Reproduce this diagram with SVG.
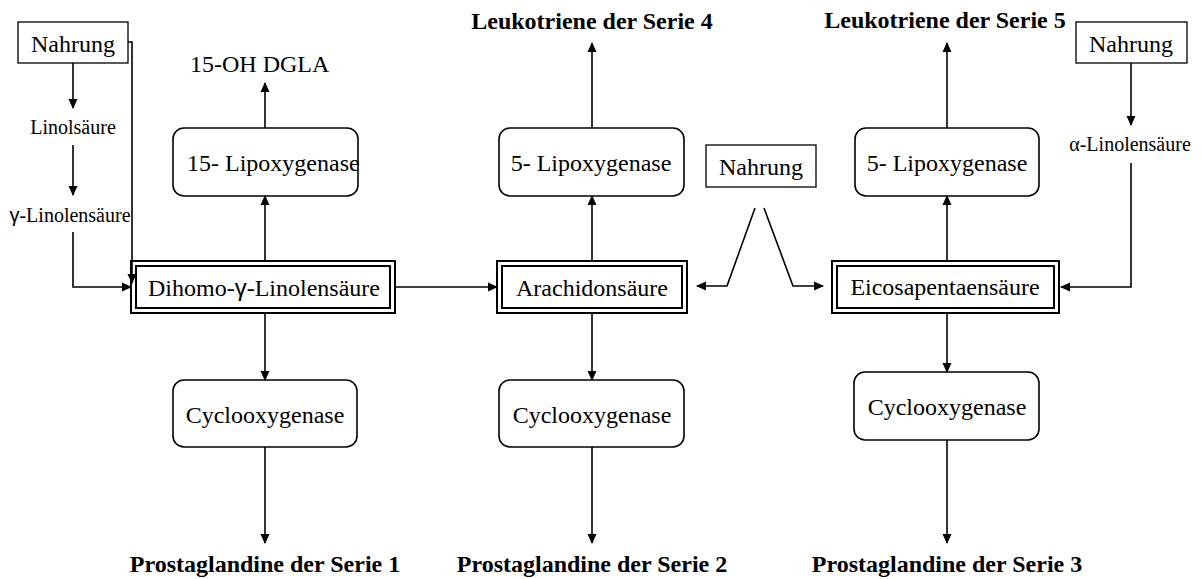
<svg xmlns="http://www.w3.org/2000/svg" width="1201" height="579" viewBox="0 0 1201 579">
<defs>
<marker id="ah" viewBox="0 0 10 10" refX="9" refY="5" markerWidth="10" markerHeight="10" markerUnits="userSpaceOnUse" orient="auto">
<path d="M0,0.5 L10,5 L0,9.5 Z" fill="#000"/>
</marker>
<style>
text{font-family:"Liberation Serif","Times New Roman",serif;fill:#000}
.t{font-size:24px}
.s{font-size:20px}
.b{font-size:24px;font-weight:bold}
.m{text-anchor:middle}
.box{fill:#fff;stroke:#000;stroke-width:1.3}
.rbox{fill:#fff;stroke:#000;stroke-width:1.6}
.dbl{fill:none;stroke:#000;stroke-width:2}
.c{fill:none;stroke:#000;stroke-width:1.6;marker-end:url(#ah)}
</style>
</defs>
<rect width="1201" height="579" fill="#fff"/>

<g id="nahrung-left">
<rect class="box" x="18" y="22" width="110" height="41"/>
<text class="t m" x="73" y="52">Nahrung</text>
</g>
<g id="linolsaeure"><text class="s m" x="73" y="134">Linolsäure</text></g>
<g id="gamma-linolensaeure"><text class="s m" x="70" y="222"><tspan font-family="'Liberation Sans',Arial,sans-serif">γ</tspan>-Linolensäure</text></g>

<g id="dihomo">
<rect class="dbl" x="131" y="261" width="264" height="52" style="fill:#fff"/>
<rect class="dbl" x="136" y="266" width="254" height="42"/>
<text class="t m" x="264" y="296">Dihomo-<tspan font-family="'Liberation Sans',Arial,sans-serif">γ</tspan>-Linolensäure</text>
</g>

<g id="lipox15">
<rect class="rbox" x="173" y="128" width="185" height="68" rx="11"/>
<text class="t" x="187" y="171">15- Lipoxygenase</text>
</g>
<g id="ohdgla"><text class="t" x="190" y="72">15-OH DGLA</text></g>

<g id="cyclo1">
<rect class="rbox" x="173" y="380" width="184" height="67" rx="11"/>
<text class="t m" x="265" y="423">Cyclooxygenase</text>
</g>
<g id="pg1"><text class="b m" x="265" y="572">Prostaglandine der Serie 1</text></g>

<g id="arachidon">
<rect class="dbl" x="497" y="261" width="190" height="52" style="fill:#fff"/>
<rect class="dbl" x="502" y="266" width="180" height="42"/>
<text class="t m" x="592" y="296">Arachidonsäure</text>
</g>

<g id="lipox5a">
<rect class="rbox" x="499" y="128" width="185" height="68" rx="11"/>
<text class="t m" x="591" y="171">5- Lipoxygenase</text>
</g>
<g id="lt4"><text class="b m" x="592" y="29">Leukotriene der Serie 4</text></g>

<g id="cyclo2">
<rect class="rbox" x="499" y="380" width="185" height="67" rx="11"/>
<text class="t m" x="592" y="423">Cyclooxygenase</text>
</g>
<g id="pg2"><text class="b m" x="592" y="572">Prostaglandine der Serie 2</text></g>

<g id="nahrung-mid">
<rect class="box" x="706" y="145" width="110" height="42"/>
<text class="t m" x="761" y="175">Nahrung</text>
</g>

<g id="eicosa">
<rect class="dbl" x="832" y="261" width="227" height="52" style="fill:#fff"/>
<rect class="dbl" x="837" y="266" width="217" height="42"/>
<text class="t m" x="945" y="295">Eicosapentaensäure</text>
</g>

<g id="lipox5b">
<rect class="rbox" x="855" y="128" width="184" height="68" rx="11"/>
<text class="t m" x="947" y="171">5- Lipoxygenase</text>
</g>
<g id="lt5"><text class="b m" x="945" y="28">Leukotriene der Serie 5</text></g>

<g id="cyclo3">
<rect class="rbox" x="854" y="372" width="185" height="68" rx="11"/>
<text class="t m" x="947" y="415">Cyclooxygenase</text>
</g>
<g id="pg3"><text class="b m" x="947" y="572">Prostaglandine der Serie 3</text></g>

<g id="nahrung-right">
<rect class="box" x="1076" y="22" width="111" height="41"/>
<text class="t m" x="1131" y="52">Nahrung</text>
</g>
<g id="alpha-linolensaeure"><text class="s m" x="1130" y="151">α-Linolensäure</text></g>

<g id="connectors">
<path class="c" d="M73,63 V108"/>
<path class="c" d="M73,145 V195"/>
<path class="c" d="M73,232 V287 H131"/>
<path class="c" d="M128,42 H132 V283"/>
<path class="c" d="M265,261 V196"/>
<path class="c" d="M265,128 V83"/>
<path class="c" d="M395,287 H497"/>
<path class="c" d="M592,261 V196"/>
<path class="c" d="M592,128 V43"/>
<path class="c" d="M755,208 L727,286 H697"/>
<path class="c" d="M764,208 L793,286 H823"/>
<path class="c" d="M947,261 V196"/>
<path class="c" d="M947,128 V43"/>
<path class="c" d="M1131,63 V125"/>
<path class="c" d="M1131,163 V287 H1061"/>
<path class="c" d="M265,313 V380"/>
<path class="c" d="M265,447 V543"/>
<path class="c" d="M592,313 V380"/>
<path class="c" d="M592,447 V543"/>
<path class="c" d="M947,313 V372"/>
<path class="c" d="M947,440 V543"/>
</g>
</svg>
